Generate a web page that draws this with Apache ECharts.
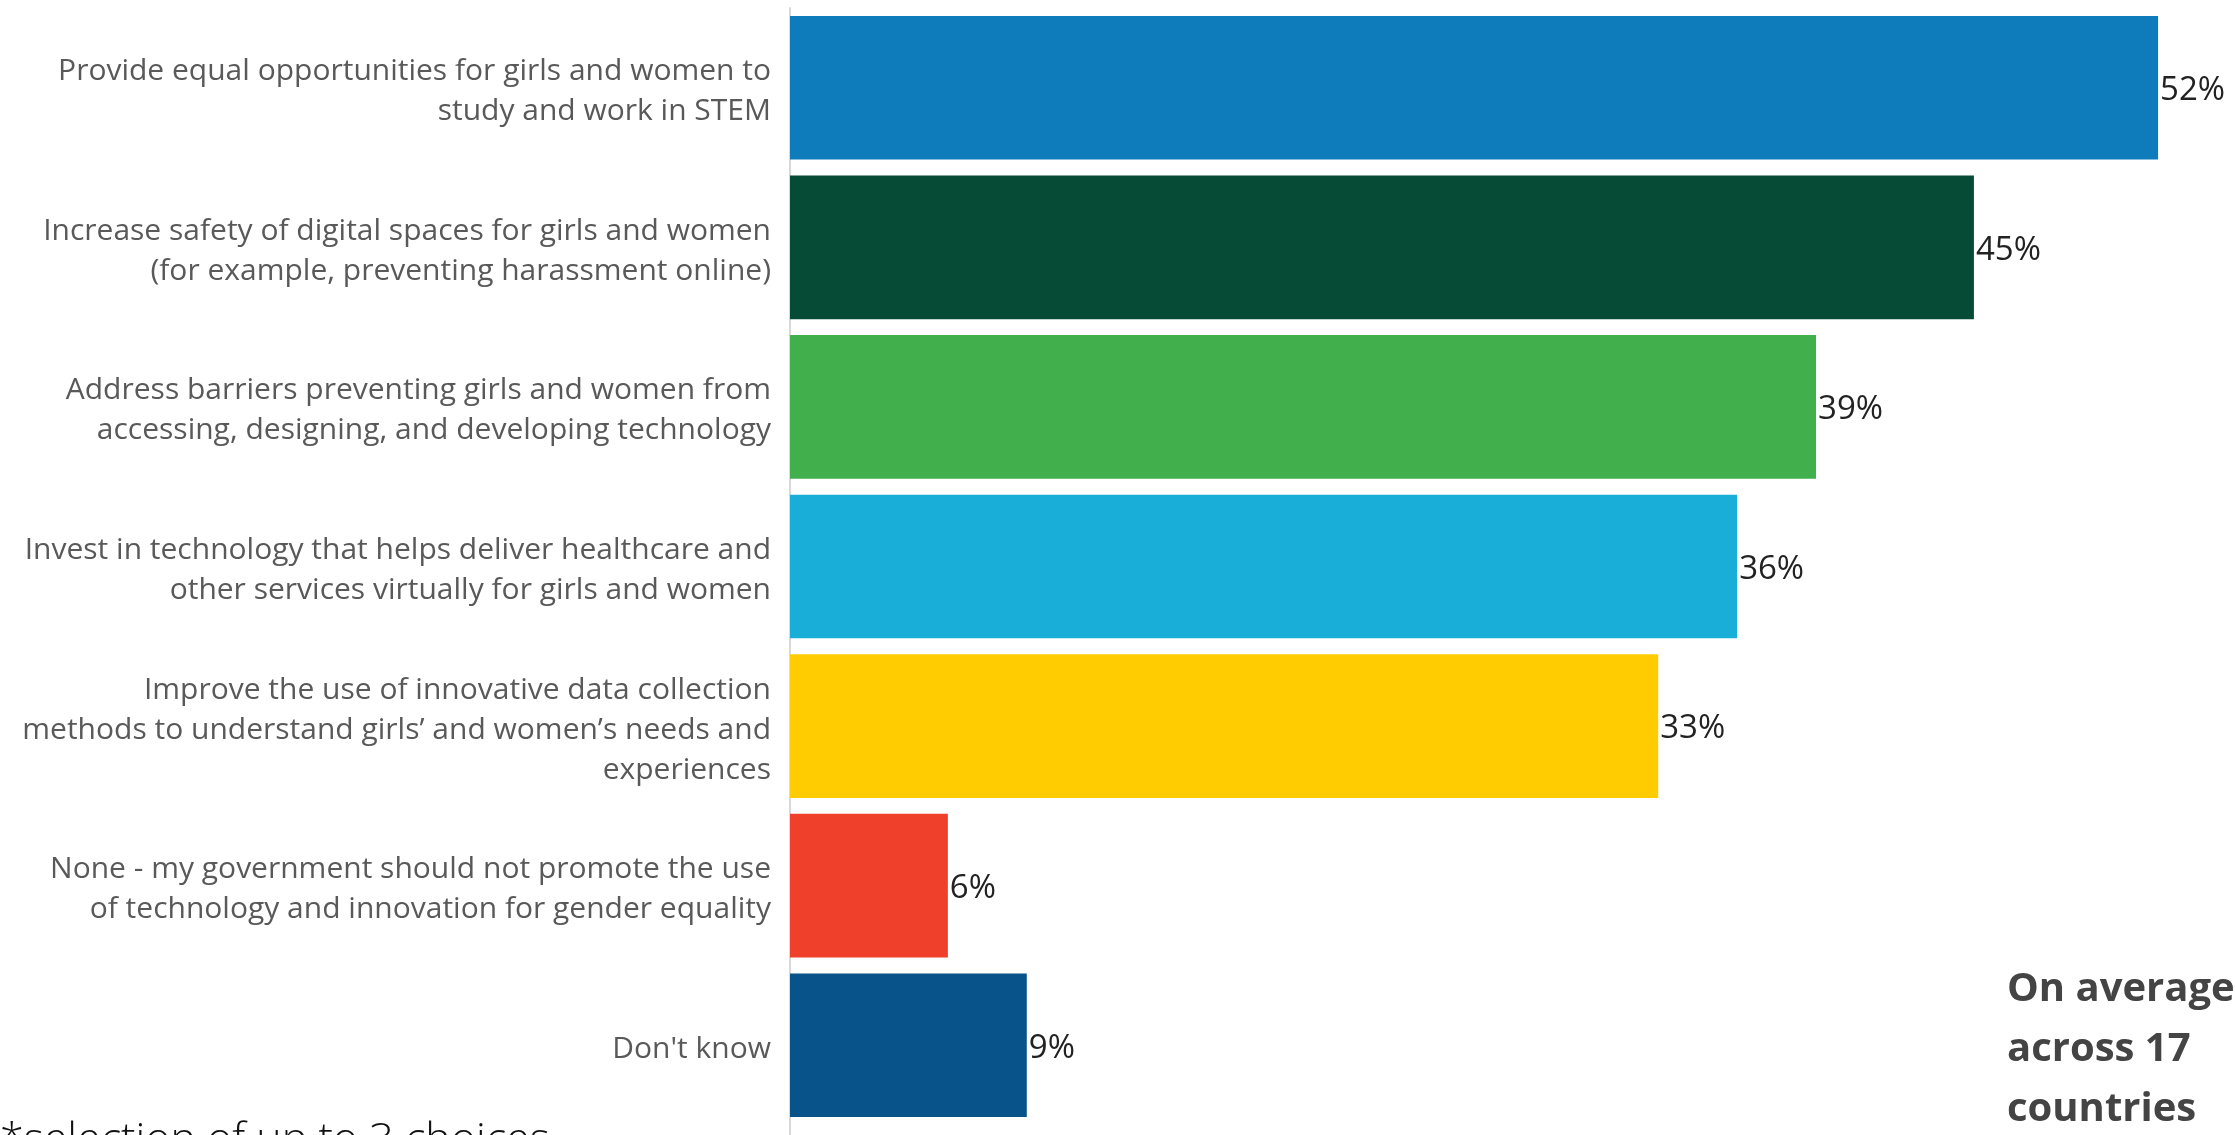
<!DOCTYPE html>
<html><head><meta charset="utf-8">
<script src="https://cdn.jsdelivr.net/npm/echarts@6/dist/echarts.min.js"></script>
<style>html,body{margin:0;padding:0;background:#fff}#c{width:2235px;height:1135px}</style>
</head><body><div id="c"></div>
<script>
const categories = [
  "Provide equal opportunities for girls and women to\nstudy and work in STEM",
  "Increase safety of digital spaces for girls and women\n(for example, preventing harassment online)",
  "Address barriers preventing girls and women from\naccessing, designing, and developing technology",
  "Invest in technology that helps deliver healthcare and\nother services virtually for girls and women",
  "Improve the use of innovative data collection\nmethods to understand girls\u2019 and women\u2019s needs and\nexperiences",
  "None - my government should not promote the use\nof technology and innovation for gender equality",
  "Don't know"
];
const values = [52, 45, 39, 36, 33, 6, 9];
const colors = ["#0E7BBB", "#054B36", "#41AF4B", "#19AED8", "#FECC00", "#EF402C", "#08548A"];
const noteText = "On average\nacross 17\ncountries";
const footnote = "*selection of up to 3 choices";

const chart = echarts.init(document.getElementById('c'));
chart.setOption({
  animation: false,
  grid: {left: 790, top: 8, width: 1420.7, height: 1117, containLabel: false},
  xAxis: {type: 'value', min: 0, max: 54, show: false},
  yAxis: {
    type: 'category', data: categories, inverse: true,
    axisLine: {show: true, lineStyle: {color: '#d9d9d9', width: 2}},
    axisTick: {show: false},
    axisLabel: {
      fontFamily: 'Open Sans', fontSize: 30, color: '#595959', lineHeight: 40, align: 'right', margin: 19,
      formatter: v => v.split('\n').map(s => '{a|' + s + '}').join('\n'),
      rich: {a: {fontFamily: 'Open Sans', fontSize: 30, color: '#595959', lineHeight: 40, padding: [8, 0, 0, 0]}}
    }
  },
  series: [{
    type: 'bar', barCategoryGap: '10%',
    data: values.map((v, i) => ({value: v, itemStyle: {color: colors[i]}})),
    label: {show: true, position: 'right', distance: 2, offset: [0, 3], formatter: '{c}%', fontFamily: 'Open Sans', fontSize: 33, color: '#222'}
  }],
  graphic: [
    {type: 'line', shape: {x1: 790, y1: 1125, x2: 790, y2: 1135}, style: {stroke: '#d9d9d9', lineWidth: 2}},
    {type: 'text', left: 2007, top: 960, style: {text: noteText, font: 'bold 40px "Open Sans"', fill: '#444', lineHeight: 60}},
    {type: 'text', left: 0, top: 1119, style: {text: footnote, font: '300 43px "Open Sans"', fill: '#111'}}
  ]
});
</script></body></html>
